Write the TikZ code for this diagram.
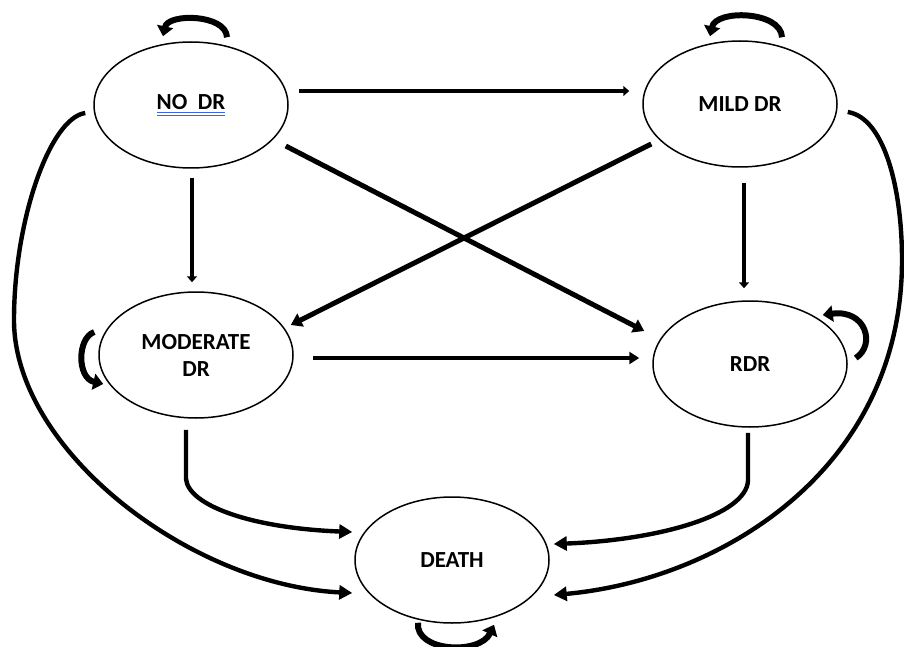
\documentclass[tikz,border=0pt]{standalone}
\usepackage{fontspec}
\setmainfont{Carlito}
\usetikzlibrary{shapes.geometric,arrows.meta}
\definecolor{ulblue}{RGB}{60,100,230}
\newcommand\dblul[1]{\begingroup\setbox0\hbox{#1}\rlap{\color{ulblue}\rule[-3.6pt]{\wd0}{1.2pt}}\rlap{\color{ulblue}\rule[-6.8pt]{\wd0}{1.2pt}}\box0\endgroup}
\begin{document}
\begin{tikzpicture}[x=1pt,y=-1pt,
  state/.style={ellipse,draw,line width=1.5pt,minimum width=194pt,minimum height=126pt,inner sep=0pt,
    font=\fontsize{23}{27}\selectfont\bfseries,align=center},
  thinarr/.style={line width=3.4pt,-{Triangle[length=6pt,width=10pt]}},
  diagarr/.style={line width=5pt,-{Triangle[length=11pt,width=14pt]}},
  midarr/.style={line width=3.8pt,-{Triangle[length=10pt,width=12pt]}},
  curvarr/.style={line width=4.4pt,-{Triangle[length=13pt,width=14pt]}},
  looparr/.style={line width=6pt,-{Triangle[length=10pt,width=16pt]}}]
\useasboundingbox (0,0) rectangle (904,647);
\node[state] (nodr)  at (191,105) {\dblul{NO\ \ DR}};
\node[state] (mild)  at (740,104) {MILD DR};
\node[state] (mod)   at (196,355) {MODERATE\\DR};
\node[state] (rdr)   at (750,364) {RDR};
\node[state] (death) at (452,560) {DEATH};
% straight connectors
\draw[thinarr] ([xshift=10pt,yshift=14pt]nodr.east) -- ([xshift=-13pt,yshift=13pt]mild.west);
\draw[thinarr] ([xshift=1pt,yshift=-9pt]nodr.south) -- ([xshift=-4pt,yshift=9pt]mod.north);
\draw[thinarr] ([xshift=4pt,yshift=-15pt]mild.south) -- ([xshift=-6pt,yshift=12pt]rdr.north);
\draw[diagarr] ([xshift=-3pt,yshift=-41pt]nodr.east) -- ([xshift=-8pt,yshift=33pt]rdr.west);
\draw[diagarr] ([xshift=9pt,yshift=-40pt]mild.west) -- ([xshift=-3pt,yshift=30pt]mod.east);
\draw[midarr] ([xshift=19pt,yshift=-3pt]mod.east) -- ([xshift=-13pt,yshift=6pt]rdr.west);
% curves into death
\draw[curvarr] ([xshift=-10pt,yshift=-11pt]mod.south) -- ++(0,49)
  .. controls (188,505) and (250,528) .. ([xshift=-2pt,yshift=28pt]death.west);
\draw[curvarr] ([xshift=-2pt,yshift=-5pt]rdr.south) -- ++(0,48)
  .. controls (746,515) and (660,540) .. ([xshift=4pt,yshift=16pt]death.east);
\draw[curvarr] ([xshift=-8pt,yshift=-8pt]nodr.west) .. controls (50,118) and (14,220) .. (14,320)
  .. controls (14,450) and (190,585) .. ([xshift=-2pt,yshift=-33pt]death.west);
\draw[curvarr] ([xshift=10pt,yshift=-8pt]mild.east) .. controls (885,118) and (902,190) .. (902,260)
  .. controls (902,470) and (720,580) .. ([xshift=4pt,yshift=-35pt]death.east);
% self loops
\draw[looparr] ([xshift=36pt,yshift=4pt]nodr.north) .. controls (226,14) and (168,13) .. ([xshift=-28pt,yshift=5pt]nodr.north);
\draw[looparr] ([xshift=42pt,yshift=3pt]mild.north) .. controls (781,11) and (716,9) .. ([xshift=-30pt,yshift=4pt]mild.north);
\draw[looparr] ([xshift=-4pt,yshift=23pt]mod.west) .. controls (77,338) and (77,378) .. ([xshift=5pt,yshift=-29pt]mod.west);
\draw[looparr] ([xshift=8pt,yshift=6pt]rdr.east) .. controls (876,345) and (866,309) .. ([xshift=-25pt,yshift=49pt]rdr.east);
\draw[looparr] ([xshift=-34pt,yshift=1pt]death.south) .. controls (415,652) and (480,655) .. ([xshift=42pt,yshift=-1pt]death.south);
\end{tikzpicture}
\end{document}
